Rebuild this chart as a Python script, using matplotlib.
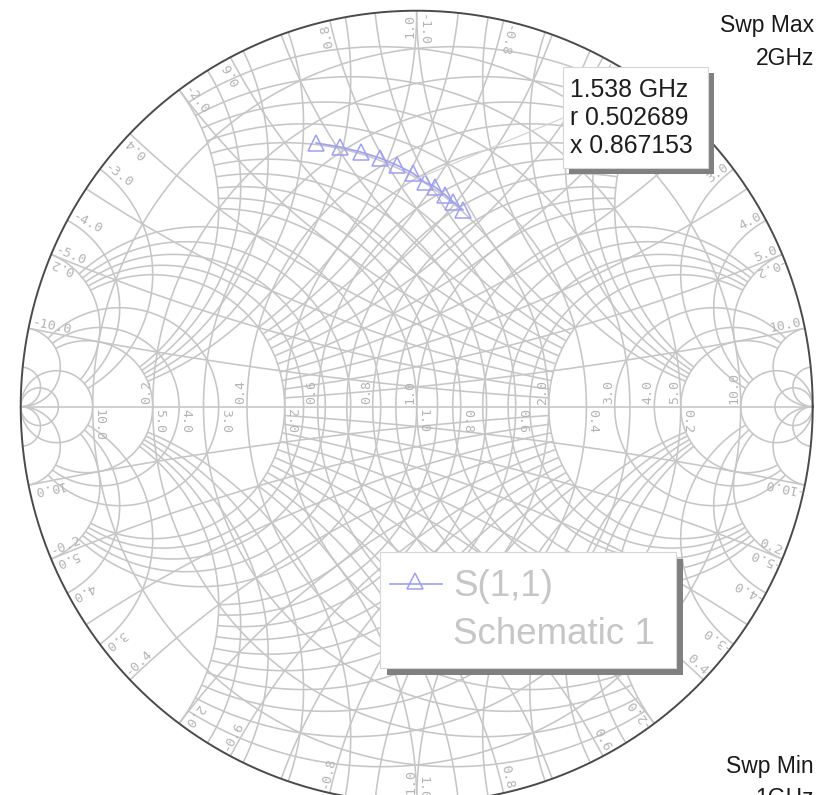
import numpy as np
import matplotlib
matplotlib.use("Agg")
import matplotlib.pyplot as plt
from matplotlib.patches import Rectangle

# ---------------- data ----------------
freq_ghz = [1.0, 1.1, 1.2, 1.3, 1.4, 1.5, 1.6, 1.7, 1.8, 1.9, 2.0]
s11_re = [-0.254, -0.194, -0.141, -0.093, -0.050, -0.010, 0.020, 0.046, 0.072, 0.092, 0.117]
s11_im = [0.666, 0.656, 0.643, 0.628, 0.610, 0.590, 0.567, 0.555, 0.535, 0.517, 0.497]

marker_freq_ghz = 1.538
marker_r = 0.502689
marker_x = 0.867153

# grid values and the reactance/resistance limit each family is drawn to
grid_fine = [0.1, 0.2, 0.3, 0.4, 0.5, 0.6, 0.7, 0.8, 0.9, 1.0]
grid_mid = [1.2, 1.4, 1.6, 1.8, 2.0]
grid_coarse = [3.0, 4.0, 5.0]
grid_outer = [10.0, 20.0]
grid_limits = [2.0, 5.0, 10.0, np.inf]
label_values = [0.2, 0.4, 0.6, 0.8, 1.0, 2.0, 3.0, 4.0, 5.0, 10.0]

sweep_max = ["Swp Max", "2GHz"]
sweep_min = ["Swp Min", "1GHz"]
legend_lines = ["S(1,1)", "Schematic 1"]

# ---------------- geometry ----------------
W, H = 818, 795
CX, CY, R = 416.7, 406.7, 396.0   # chart centre / radius in pixels

fig = plt.figure(figsize=(W / 100, H / 100), dpi=100)
ax = fig.add_axes([0, 0, 1, 1])
ax.set_xlim(-CX / R, (W - CX) / R)
ax.set_ylim((CY - H) / R, CY / R)
ax.axis("off")


def P(x, y):
    """pixel position (from top-left) -> chart coordinates"""
    return (x - CX) / R, (CY - y) / R


def gamma(z):
    return (z - 1) / (z + 1)


GRID = dict(color="#c6c6c6", lw=1.15, zorder=1, solid_capstyle="butt")
LAB = dict(family="DejaVu Sans Mono", fontsize=9.5, color="#b4b4b4",
           rotation_mode="anchor", zorder=2)


def r_circle(r, lim, adm=False):
    u = np.linspace(-np.arctan(lim), np.arctan(lim), 700)
    g = gamma(r + 1j * np.tan(u))
    if adm:
        g = -g
    ax.plot(g.real, g.imag, **GRID)


def x_arc(x, lim, adm=False):
    u = np.linspace(0.0, np.arctan(lim), 700)
    g = gamma(np.tan(u) + 1j * x)
    if adm:
        g = -g
    ax.plot(g.real, g.imag, **GRID)


for adm in (False, True):
    for family, lim in zip([grid_fine, grid_mid, grid_coarse, grid_outer], grid_limits):
        for v in family:
            r_circle(v, lim, adm=adm)
            x_arc(v, lim, adm=adm)
            x_arc(-v, lim, adm=adm)

# real axis and outer boundary
ax.plot([-1, 1], [0, 0], **GRID)
t = np.linspace(0, 2 * np.pi, 1000)
ax.plot(np.cos(t), np.sin(t), color="#4a4a4a", lw=1.4, zorder=2)

# ---------------- grid labels ----------------
gap = 2.5 / R
for v in label_values:
    s = f"{v:.1f}"
    # resistance (above axis) and conductance (below axis)
    ax.text((v - 1) / (v + 1), gap, s, rotation=90, ha="left", va="bottom", **LAB)
    ax.text((1 - v) / (1 + v), -gap, s, rotation=-90, ha="left", va="bottom", **LAB)

    inset = 1 - 3 / R
    # reactance +v (upper) and -v (lower)
    ge = gamma(1j * v) * inset
    phi = np.degrees(np.angle(ge))
    ax.text(ge.real, ge.imag, s, rotation=phi, ha="right", va="bottom", **LAB)
    ax.text(ge.real, -ge.imag, "-" + s, rotation=-phi + 180, ha="left", va="bottom", **LAB)

    # susceptance -v (upper) and +v (lower)
    gb = -gamma(-1j * v) * inset
    phi = np.degrees(np.angle(gb))
    ax.text(gb.real, gb.imag, "-" + s, rotation=phi + 180, ha="left", va="bottom", **LAB)
    ax.text(gb.real, -gb.imag, s, rotation=-phi, ha="right", va="bottom", **LAB)

# ---------------- trace ----------------
trace_color = "#a0a0f2"
ax.plot(s11_re, s11_im, color=trace_color, lw=1.2, marker="^", ms=12,
        mfc="none", mec=trace_color, mew=1.1, zorder=4)

# marker readout
gm = gamma(marker_r + 1j * marker_x)
box_l, box_t, box_r, box_b = 563, 67, 708, 168
ax.plot([gm.real, P(box_l, 118)[0]], [gm.imag, P(box_l, 118)[1]],
        color="#d4d4d4", lw=0.9, zorder=4)


def shadow_box(l, t_, r_, b, sh):
    x0, y0 = P(l, b)
    w, h = (r_ - l) / R, (b - t_) / R
    ax.add_patch(Rectangle((x0 + sh / R, y0 - sh / R), w, h, facecolor="#808080",
                           edgecolor="none", zorder=5))
    ax.add_patch(Rectangle((x0, y0), w, h, facecolor="white", edgecolor="#d6d6d6",
                           lw=0.8, zorder=6))


shadow_box(box_l, box_t, box_r, box_b, 6)
readout = [f"{marker_freq_ghz:.3f} GHz", f"r {marker_r:.6f}", f"x {marker_x:.6f}"]
for i, s in enumerate(readout):
    ax.text(*P(570, 97 + 28 * i), s, family="Liberation Sans", fontsize=17.8,
            color="#1e1e1e", va="baseline", ha="left", zorder=7)

# legend
shadow_box(380, 552, 676, 668, 7)
lx0, ly = P(390, 584)
lx1, _ = P(442, 584)
ax.plot([lx0, lx1], [ly, ly], color=trace_color, lw=1.2, zorder=7)
ax.plot([P(415, 581)[0]], [P(415, 581)[1]], marker="^", ms=12, mfc="none",
        mec=trace_color, mew=1.1, zorder=7)
for i, s in enumerate(legend_lines):
    ax.text(*P(453, 596 + 48 * i), s, family="Liberation Sans", fontsize=26.5,
            color="#c6c6c6", va="baseline", ha="left", zorder=7)

# sweep annotations
for i, s in enumerate(sweep_max):
    ax.text(*P(814, 32 + 33 * i), s, family="Liberation Sans", fontsize=16.5,
            color="#1a1a1a", va="baseline", ha="right", zorder=7)
for i, s in enumerate(sweep_min):
    ax.text(*P(814, 773 + 32 * i), s, family="Liberation Sans", fontsize=16.5,
            color="#1a1a1a", va="baseline", ha="right", zorder=7)

fig.savefig("out.png", dpi=100)
